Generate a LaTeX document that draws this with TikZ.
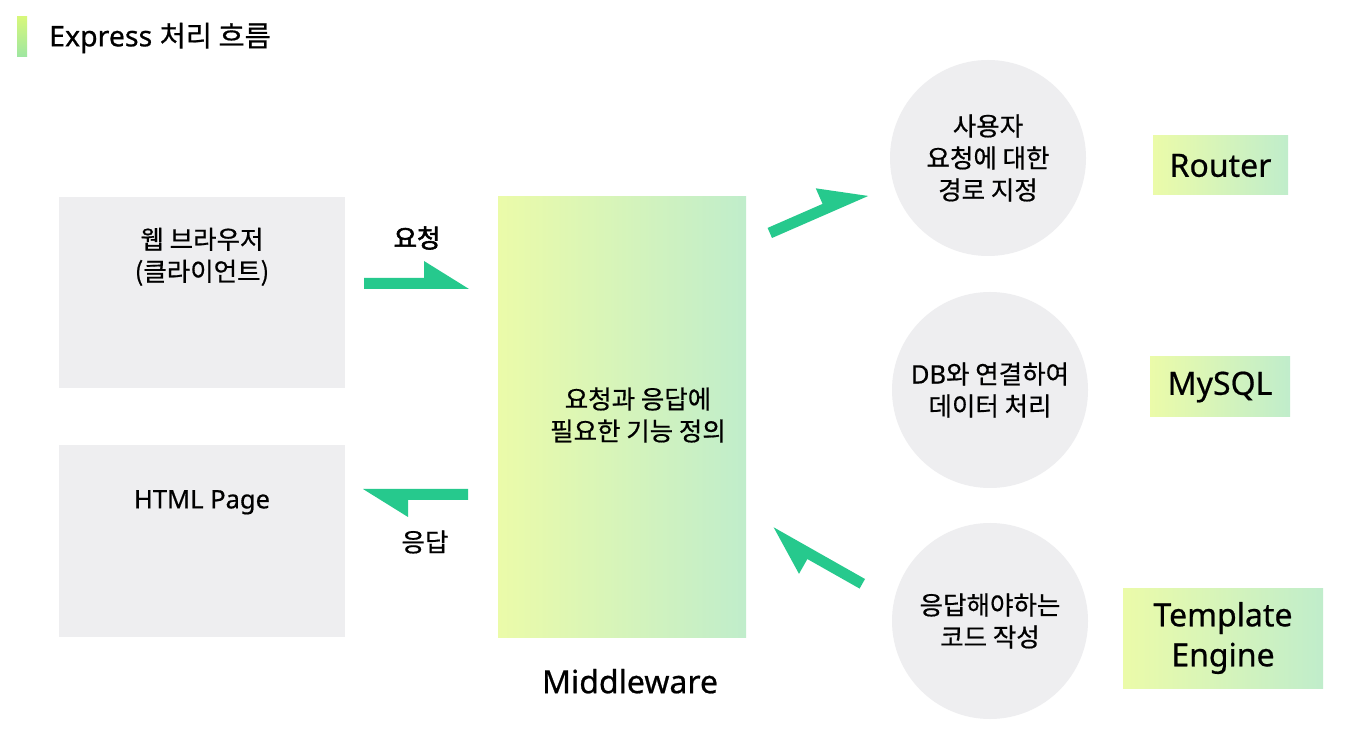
\documentclass[tikz,border=0pt]{standalone}
\usepackage{fontspec}
\setmainfont[FakeBold=0.6]{Noto Sans}
\newfontfamily\kr[FakeBold=0.6]{Noto Sans CJK KR}
\newfontfamily\krbold[FakeBold=2.2]{Noto Sans CJK KR}
\definecolor{boxgrey}{HTML}{EEEEF0}
\definecolor{arrowgreen}{HTML}{26C98D}
\definecolor{gradleft}{HTML}{EBFBA9}
\definecolor{gradright}{HTML}{C0EDCB}
\definecolor{bartop}{HTML}{D6F77B}
\definecolor{barbottom}{HTML}{9EE6A2}
\begin{document}
\begin{tikzpicture}[x=1pt, y=1pt,
        txt/.style={font=\fontsize{25.5}{32}\selectfont, align=center, inner sep=0},
        bigtxt/.style={font=\fontsize{32}{40}\selectfont, align=center, inner sep=0},
        greybox/.style={fill=boxgrey, minimum width=286, minimum height=191, inner sep=0},
        gradbox/.style={left color=gradleft, right color=gradright, inner sep=0},
        bubble/.style={circle, fill=boxgrey, minimum size=196, inner sep=0, txt},
        halfarrow/.pic={\fill[arrowgreen] (0,0) -- (105,0) -- (60,28) -- (60,11) -- (0,11) -- cycle;}]
    \useasboundingbox[fill=white] (0,0) rectangle (1370,742);
    % title
    \shade[top color=bartop, bottom color=barbottom] (17,685) rectangle (27,725);
    \node[anchor=west, font=\fontsize{28.5}{30}\selectfont, inner sep=0] (title) at (49,704) {Express {\kr 처리 흐름}};
    % client side
    \node[greybox] (browser) at (202,449.5) {};
    \node[txt] (browsertxt) at ([yshift=-60]browser.north) {\kr 웹 브라우저\\\kr (클라이언트)};
    \node[greybox] (page) at (202,201) {};
    \node[txt] (pagetxt) at ([yshift=-57]page.north) {HTML Page};
    % middleware
    \node[gradbox, minimum width=248, minimum height=440] (mw) at (622,325) {};
    \node[txt] (mwtxt) at (638,327) {\kr 요청과 응답에\\\kr 필요한 기능 정의};
    \node[bigtxt] (mwlabel) at ([xshift=8,yshift=-44]mw.south) {Middleware};
    % request / response
    \node[txt] (reqlabel) at (417,504) {\krbold 요청};
    \node[txt] (reslabel) at (425,200) {\kr 응답};
    \coordinate (reqstart) at (364,453);
    \coordinate (resstart) at (468,253);
    \coordinate (routestart) at (772,504);
    \coordinate (tplstart) at (865,163);
    \pic at (reqstart) {halfarrow};
    \pic[rotate=180] at (resstart) {halfarrow};
    \pic[rotate=23.6] at (routestart) {halfarrow};
    \pic[rotate=150.5] at (tplstart) {halfarrow};
    % functions
    \node[bubble] (route) at (988,584) {\kr 사용자\\\kr 요청에 대한\\\kr 경로 지정};
    \node[bubble] (db) at (990,352) {DB{\kr 와 연결하여}\\\kr 데이터 처리};
    \node[bubble] (tpl) at (990,121) {\kr 응답해야하는\\\kr 코드 작성};
    \node[gradbox, bigtxt, minimum width=135, minimum height=59] (router) at (1220.5,576.5) {Router};
    \node[gradbox, bigtxt, minimum width=140, minimum height=60] (mysql) at (1220,355) {MySQL};
    \node[gradbox, bigtxt, minimum width=200, minimum height=100] (engine) at (1223,104) {Template\\Engine};
\end{tikzpicture}
\end{document}
